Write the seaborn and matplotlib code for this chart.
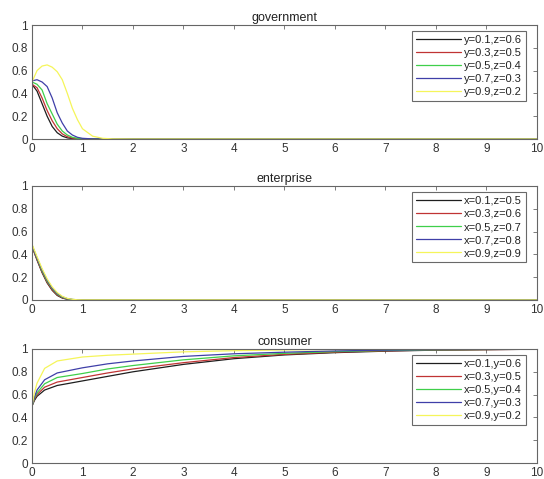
import numpy as np
import pandas as pd
import matplotlib
matplotlib.use("Agg")
import matplotlib.pyplot as plt
import seaborn as sns

# values
colors = ["#1e1e1e", "#c03434", "#3fcf4a", "#3f3fa8", "#f5f55a"]

t_gov = [0, 0.1, 0.2, 0.3, 0.4, 0.5, 0.6, 0.7, 0.8, 0.9, 1.0, 1.2, 1.4, 1.6, 2, 10]
gov_labels = ["y=0.1,z=0.6", "y=0.3,z=0.5", "y=0.5,z=0.4", "y=0.7,z=0.3", "y=0.9,z=0.2"]
gov_k = [0.48, 0.42, 0.31, 0.20, 0.11, 0.055, 0.025, 0.010, 0.004, 0.001, 0, 0, 0, 0, 0, 0]
gov_r = [0.48, 0.45, 0.36, 0.25, 0.16, 0.09, 0.045, 0.020, 0.008, 0.003, 0.001, 0, 0, 0, 0, 0]
gov_g = [0.50, 0.48, 0.43, 0.31, 0.22, 0.13, 0.07, 0.035, 0.015, 0.006, 0.002, 0, 0, 0, 0, 0]
gov_b = [0.51, 0.52, 0.50, 0.46, 0.36, 0.23, 0.14, 0.07, 0.035, 0.015, 0.006, 0.001, 0, 0, 0, 0]
gov_y = [0.50, 0.60, 0.64, 0.65, 0.63, 0.59, 0.52, 0.40, 0.27, 0.17, 0.09, 0.025, 0.006, 0.001, 0, 0]

t_ent = [0, 0.1, 0.2, 0.3, 0.4, 0.5, 0.6, 0.7, 0.8, 0.9, 1.0, 10]
ent_labels = ["x=0.1,z=0.5", "x=0.3,z=0.6", "x=0.5,z=0.7", "x=0.7,z=0.8", "x=0.9,z=0.9"]
ent_k = [0.47, 0.35, 0.24, 0.15, 0.085, 0.040, 0.017, 0.006, 0.002, 0.0005, 0, 0]
ent_r = [0.47, 0.355, 0.245, 0.155, 0.090, 0.045, 0.020, 0.008, 0.003, 0.001, 0, 0]
ent_g = [0.48, 0.365, 0.255, 0.165, 0.100, 0.052, 0.024, 0.010, 0.004, 0.001, 0, 0]
ent_b = [0.48, 0.37, 0.265, 0.175, 0.105, 0.058, 0.028, 0.012, 0.005, 0.002, 0, 0]
ent_y = [0.49, 0.38, 0.275, 0.185, 0.115, 0.065, 0.032, 0.014, 0.006, 0.002, 0.001, 0]

t_con = [0, 0.05, 0.1, 0.25, 0.5, 1, 1.5, 2, 3, 4, 5, 6, 7, 8, 10]
con_labels = ["x=0.1,y=0.6", "x=0.3,y=0.5", "x=0.5,y=0.4", "x=0.7,y=0.3", "x=0.9,y=0.2"]
con_k = [0.5, 0.55, 0.585, 0.64, 0.68, 0.72, 0.76, 0.80, 0.865, 0.915, 0.948, 0.968, 0.981, 0.99, 0.998]
con_r = [0.5, 0.56, 0.60, 0.665, 0.71, 0.75, 0.79, 0.825, 0.88, 0.925, 0.953, 0.972, 0.984, 0.991, 0.998]
con_g = [0.5, 0.57, 0.615, 0.695, 0.75, 0.785, 0.825, 0.855, 0.905, 0.94, 0.962, 0.977, 0.987, 0.993, 0.999]
con_b = [0.5, 0.58, 0.64, 0.73, 0.79, 0.835, 0.87, 0.895, 0.935, 0.958, 0.972, 0.983, 0.99, 0.995, 0.999]
con_y = [0.5, 0.62, 0.70, 0.83, 0.895, 0.93, 0.945, 0.955, 0.975, 0.985, 0.992, 0.996, 0.998, 1.0, 1.0]

panels = [
    ("government", t_gov, [gov_k, gov_r, gov_g, gov_b, gov_y], gov_labels),
    ("enterprise", t_ent, [ent_k, ent_r, ent_g, ent_b, ent_y], ent_labels),
    ("consumer", t_con, [con_k, con_r, con_g, con_b, con_y], con_labels),
]

sns.set_theme(style="white")
plt.rcParams["font.family"] = ["Liberation Sans", "DejaVu Sans"]
plt.rcParams["axes.edgecolor"] = "#666666"
plt.rcParams["axes.linewidth"] = 0.8

fig = plt.figure(figsize=(5.44, 4.79), dpi=100)
bottoms = [0.7098, 0.3737, 0.0334]

for (title, t, series, labels), b in zip(panels, bottoms):
    ax = fig.add_axes([0.0588, b, 0.928, 0.238])
    for vals, c, lab in zip(series, colors, labels):
        sns.lineplot(x=t, y=vals, color=c, linewidth=0.9, label=lab, ax=ax)
    ax.set_xlim(0, 10)
    ax.set_ylim(0, 1)
    ax.set_xticks(range(0, 11))
    ax.set_yticks([0, 0.2, 0.4, 0.6, 0.8, 1])
    ax.set_yticklabels(["0", "0.2", "0.4", "0.6", "0.8", "1"])
    ax.tick_params(direction="in", length=3, width=0.6, top=True, right=True,
                   labelsize=8.5, colors="#666666", labelcolor="#333333", pad=3)
    ax.set_title(title, fontsize=9, color="#222222", pad=3)
    leg = ax.legend(loc="upper right", bbox_to_anchor=(1 - 11 / 505, 1 - 6 / 114),
                    borderaxespad=0, fontsize=8, frameon=True, fancybox=False,
                    handlelength=4.0, handletextpad=0.3, borderpad=0.35,
                    labelspacing=0.28)
    leg.get_frame().set_edgecolor("#444444")
    leg.get_frame().set_linewidth(0.8)
    for txt in leg.get_texts():
        txt.set_color("#222222")

fig.savefig("out.png", dpi=100)
